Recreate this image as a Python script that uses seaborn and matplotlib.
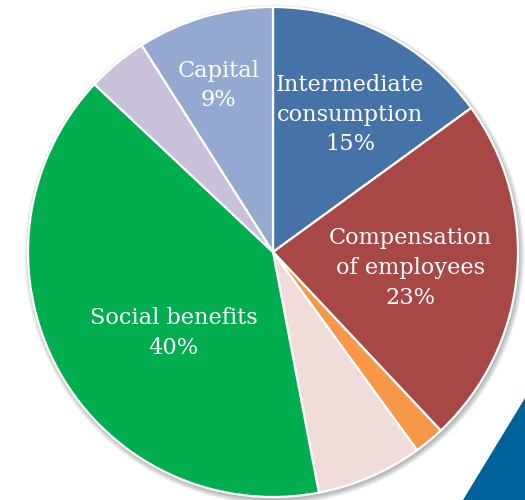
import matplotlib
matplotlib.use("Agg")
import matplotlib.pyplot as plt
from matplotlib.patches import Circle, Polygon
import seaborn as sns

# Expenditure shares (%), clockwise from 12 o'clock
categories = ["Intermediate\nconsumption", "Compensation\nof employees", "Other A",
              "Other B", "Social benefits", "Other C", "Capital"]
shares = [15, 23, 2, 7, 40, 4, 9]
show_label = [True, True, False, False, True, False, True]
colors = ["#4673a7", "#a84846", "#f79747", "#f1dcdc", "#00ae4f", "#c9c0da", "#94a9cf"]

# label anchor points inside the unit pie
label_xy = [(0.315, 0.560), (0.560, -0.065), (-0.405, -0.330), (-0.222, 0.680)]

sns.set_theme(style="white")
plt.rcParams["font.family"] = ["DejaVu Serif"]

fig = plt.figure(figsize=(5.25, 5.0), dpi=100)
ax = fig.add_axes([0, 0, 1, 1])
ax.set_axis_off()

# soft drop shadow under the pie
for k in range(6):
    ax.add_patch(Circle((0.006, -0.010), 1.0 + 0.004 * k, color="#000000",
                        alpha=0.05, lw=0, zorder=0))

wedges, _ = ax.pie(shares, colors=colors, startangle=90, counterclock=False,
                   radius=1.0, wedgeprops=dict(edgecolor="white", linewidth=1.6))
for w in wedges:
    w.set_zorder(2)

labelled = [(c, s) for c, s, show in zip(categories, shares, show_label) if show]
for (name, val), (lx, ly) in zip(labelled, label_xy):
    ax.text(lx, ly, f"{name}\n{val}%", ha="center", va="center", color="white",
            fontsize=16.2, linespacing=1.45, zorder=5)

ax.set_xlim(-273 / 245, (525 - 273) / 245)
ax.set_ylim((252 - 500) / 245, 252 / 245)
ax.set_aspect("auto")

# corner accent
fig.patches.append(Polygon([(463 / 525, 0), (1, (500 - 398) / 500), (1, 0)],
                           closed=True, transform=fig.transFigure,
                           facecolor="#00629b", edgecolor="none", zorder=-1))

fig.savefig("out.png", dpi=100)
